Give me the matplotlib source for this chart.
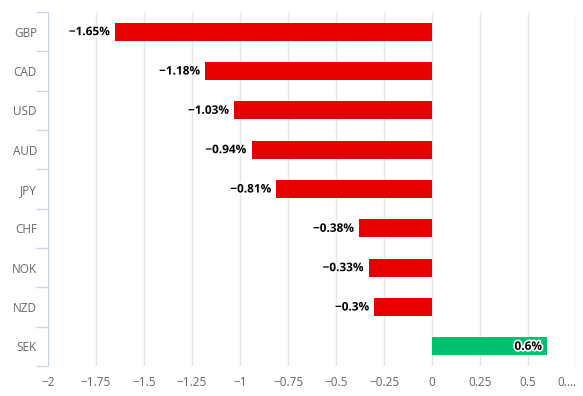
import matplotlib.pyplot as plt
import matplotlib.patheffects as pe
import numpy as np

currencies = ["GBP", "CAD", "USD", "AUD", "JPY", "CHF", "NOK", "NZD", "SEK"]
changes = [-1.65, -1.18, -1.03, -0.94, -0.81, -0.38, -0.33, -0.3, 0.6]
labels = ["−1.65%", "−1.18%", "−1.03%", "−0.94%", "−0.81%", "−0.38%", "−0.33%", "−0.3%", "0.6%"]
xticks = [-2, -1.75, -1.5, -1.25, -1, -0.75, -0.5, -0.25, 0, 0.25, 0.5, 0.75]
xticklabels = ["−2", "−1.75", "−1.5", "−1.25", "−1", "−0.75", "−0.5", "−0.25", "0", "0.25", "0.5", "0.…"]

plt.rcParams['font.family'] = ['Open Sans', 'DejaVu Sans']

fig = plt.figure(figsize=(5.83, 3.96), dpi=100)
ax = fig.add_axes([48 / 583, 30 / 396, 528 / 583, 354 / 396])

y = np.arange(len(currencies))
colors = ["#e60000" if v < 0 else "#00bf6f" for v in changes]
ax.barh(y, changes, height=0.46, color=colors, zorder=3)

ax.set_xlim(-2, 0.75)
ax.set_ylim(len(currencies) - 0.5, -0.5)

ax.set_xticks(xticks)
ax.set_xticklabels(xticklabels)
ax.get_xticklabels()[-1].set_horizontalalignment("right")
ax.set_yticks(y)
ax.set_yticklabels(currencies)
ax.set_yticks(np.arange(len(currencies) + 1) - 0.5, minor=True)

ax.tick_params(axis="x", length=0, pad=7.5, labelsize=8.5, colors="#666666")
ax.tick_params(axis="y", which="major", length=0, pad=8, labelsize=8.5, colors="#666666")
ax.tick_params(axis="y", which="minor", length=9, width=1, color="#ccd6eb")

ax.grid(which="major", axis="x", color="#e6e6e6", linewidth=1, zorder=0)
for s in ["top", "right", "bottom"]:
    ax.spines[s].set_visible(False)
ax.spines["left"].set_color("#ccd6eb")

# value labels: outside left for negatives, inside end for positives
halo = [pe.withStroke(linewidth=2.5, foreground="white")]
for ii, (val, lab) in enumerate(zip(changes, labels)):
    ax.annotate(lab, (val, ii), xytext=(-4, 0), textcoords="offset points",
                ha="right", va="center", fontsize=8.5, fontweight="bold", color="black",
                path_effects=halo, zorder=4)

fig.savefig("out.png", dpi=100)
